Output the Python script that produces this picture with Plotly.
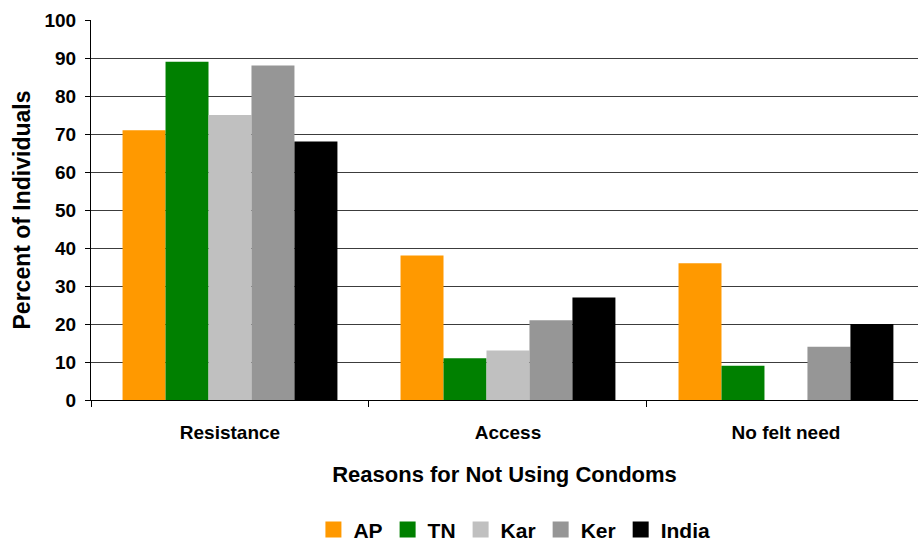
import plotly.graph_objects as go

# Survey results: reasons given for not using condoms, by state
categories = ["Resistance", "Access", "No felt need"]
series_names = ["AP", "TN", "Kar", "Ker", "India"]
ap = [71, 38, 36]
tn = [89, 11, 9]
kar = [75, 13, 0]
ker = [88, 21, 14]
india = [68, 27, 20]
y_ticks = list(range(0, 101, 10))

series_values = [ap, tn, kar, ker, india]
colors = ["#FF9900", "#008000", "#C0C0C0", "#969696", "#000000"]

FONT = "Liberation Sans, Arial, sans-serif"

fig = go.Figure()
for name, vals, col in zip(series_names, series_values, colors):
    fig.add_trace(go.Bar(
        name=name, x=categories, y=vals, showlegend=False,
        marker=dict(color=col, line=dict(width=0)),
    ))
# legend entries drawn as larger square swatches
for name, col in zip(series_names, colors):
    fig.add_trace(go.Scatter(
        name=name, x=[None], y=[None], mode="markers",
        marker=dict(symbol="square", size=16, color=col),
    ))

fig.update_layout(
    width=918, height=545,
    margin=dict(l=91, r=0, t=20, b=145, autoexpand=False),
    paper_bgcolor="white", plot_bgcolor="white",
    barmode="group", bargap=0.227, bargroupgap=0,
    font=dict(family=FONT, color="black"),
    legend=dict(
        orientation="h", x=0.512, xanchor="center", y=-0.342, yanchor="middle",
        font=dict(family=FONT, size=21, color="black", weight="bold"),
        itemwidth=30, tracegroupgap=0,
    ),
    xaxis=dict(
        type="category", range=[-0.5, 2.475], automargin=False,
        showline=True, linecolor="black", linewidth=1,
        ticks="outside", tickson="boundaries", ticklen=6, tickcolor="black",
        showgrid=False, ticklabelstandoff=15,
        tickfont=dict(family=FONT, size=19, color="black", weight="bold"),
        title=dict(text="Reasons for Not Using Condoms", standoff=24,
                   font=dict(family=FONT, size=22, color="black", weight="bold")),
    ),
    yaxis=dict(
        range=[0, 100], tickvals=y_ticks, automargin=False,
        showline=True, linecolor="black", linewidth=1,
        ticks="outside", ticklen=5, tickcolor="black",
        showgrid=True, gridcolor="#3c3c3c", gridwidth=1.4, zeroline=False,
        ticklabelstandoff=5,
        tickfont=dict(family=FONT, size=19, color="black", weight="bold"),
        title=dict(text="Percent of Individuals", standoff=7,
                   font=dict(family=FONT, size=23, color="black", weight="bold")),
    ),
)

fig.write_html("out.html")
